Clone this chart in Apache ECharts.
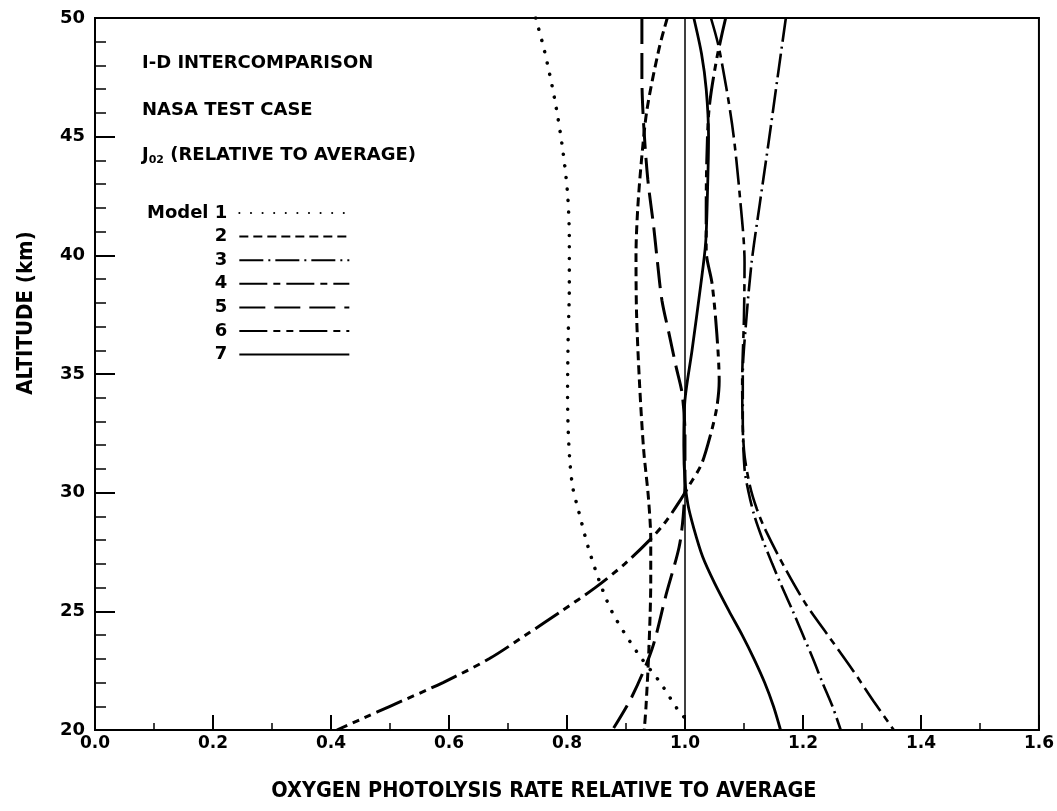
<!DOCTYPE html>
<html><head><meta charset="utf-8">
<script src="https://cdn.jsdelivr.net/npm/echarts@6/dist/echarts.min.js"></script>
<style>html,body{margin:0;padding:0;background:#fff}#c{width:1057px;height:811px}</style>
</head><body><div id="c"></div>
<script>
// ---- data: [relative rate, altitude km] ----
const modelNames = ['1', '2', '3', '4', '5', '6', '7'];
const model1 = [[0.747,50],[0.762,48.6],[0.779,46.6],[0.792,44.6],[0.801,42.6],[0.804,40.6],[0.804,38.7],[0.802,36.5],[0.801,34.2],[0.802,32.7],[0.805,31.3],[0.81,30.2],[0.82,29.2],[0.836,27.7],[0.856,26.2],[0.878,24.9],[0.921,23.2],[0.958,22.0],[0.988,20.85],[1.0,20.5]];
const model2 = [[0.97,50],[0.956,48.7],[0.936,46.2],[0.927,44.2],[0.92,42],[0.917,40],[0.918,37.5],[0.923,34.6],[0.93,31.8],[0.938,29.8],[0.942,28],[0.942,26.3],[0.939,23.5],[0.934,21],[0.931,20]];
const model3 = [[1.171,50],[1.157,47.5],[1.142,44.8],[1.127,42.2],[1.113,39.7],[1.103,37],[1.098,35],[1.098,33],[1.101,31],[1.108,30],[1.118,29],[1.132,28],[1.148,27],[1.165,26],[1.183,25],[1.2,24],[1.217,23],[1.233,22],[1.25,21],[1.264,20]];
const model4 = [[1.044,50],[1.058,48.7],[1.08,45.5],[1.093,42.5],[1.101,39.7],[1.1,37.4],[1.097,34.6],[1.1,31.8],[1.11,30.3],[1.122,29.3],[1.137,28.4],[1.17,26.8],[1.205,25.3],[1.245,23.9],[1.285,22.5],[1.32,21.2],[1.354,20]];
const model5 = [[0.927,50],[0.927,47.5],[0.93,45.5],[0.937,43.2],[0.947,41.2],[0.953,39.8],[0.961,38.1],[0.973,36.7],[0.985,35.3],[0.995,34.2],[1.0,32.5],[1.0,30.5],[0.997,29],[0.99,27.7],[0.968,25.7],[0.944,23.4],[0.91,21.4],[0.877,20]];
const model6 = [[1.069,50],[1.054,48.3],[1.041,46.2],[1.037,44],[1.036,42],[1.036,40.2],[1.046,38.8],[1.054,36.7],[1.058,34.7],[1.054,33.6],[1.044,32.5],[1.028,31.2],[1.007,30.3],[0.99,29.6],[0.965,28.7],[0.94,28],[0.898,27],[0.848,26],[0.79,25],[0.73,24],[0.668,23],[0.59,22],[0.5,21],[0.455,20.5],[0.41,20]];
const model7 = [[1.015,50],[1.028,48.5],[1.036,47],[1.04,45],[1.038,42.5],[1.035,40.5],[1.027,38.8],[1.012,36],[1.0,33.9],[0.998,32],[1.0,30.5],[1.005,29.5],[1.015,28.5],[1.03,27.3],[1.05,26.2],[1.075,25],[1.097,24],[1.117,23],[1.135,22],[1.15,21],[1.162,20]];
const referenceX = [1.0];
const xRange = [0, 1.6, 0.2];
const yRange = [20, 50, 5];
const annotations = ['I-D INTERCOMPARISON', 'NASA TEST CASE'];
// ---------------------------------------------------------------

const FONT = '"DejaVu Sans", "Liberation Sans", Arial, sans-serif';
const NARROW = '"Liberation Sans Narrow", "DejaVu Sans Condensed", "Liberation Sans", Arial, sans-serif';
const allData = [model1, model2, model3, model4, model5, model6, model7];
const styles = [
  {width: 3.5, type: [0.1, 11.5], cap: 'round'},
  {width: 3, type: [9, 5]},
  {width: 2.6, type: [24, 5, 2, 5]},
  {width: 2.6, type: [28, 6, 7, 6]},
  {width: 3, type: [26, 9]},
  {width: 3, type: [28, 6, 7, 6, 7, 6]},
  {width: 2.8, type: 'solid'}
];

const series = modelNames.map((n, i) => {
  const s = {
    name: n, type: 'line', data: allData[i], smooth: 0.3,
    symbol: 'none', showSymbol: false, animation: false,
    lineStyle: Object.assign({color: '#000'}, styles[i]),
    itemStyle: {color: '#000'}
  };
  if (i === 6) {
    s.markLine = {
      silent: true, symbol: 'none', animation: false,
      label: {show: false},
      lineStyle: {color: '#000', type: 'solid', width: 1.5},
      data: referenceX.map(v => ({xAxis: v}))
    };
  }
  return s;
});

const chart = echarts.init(document.getElementById('c'), null, {renderer: 'canvas'});
chart.setOption({
  backgroundColor: '#fff',
  animation: false,
  grid: {left: 95, right: 16, top: 18, bottom: 81, show: true, borderColor: '#000', borderWidth: 2, containLabel: false},
  xAxis: {
    type: 'value', min: xRange[0], max: xRange[1], interval: xRange[2],
    axisLine: {show: true, onZero: false, lineStyle: {color: '#000', width: 2}},
    axisTick: {show: true, inside: true, length: 15, lineStyle: {color: '#000', width: 2}},
    minorTick: {show: true, splitNumber: 2, length: 7, lineStyle: {color: '#000', width: 1.5}},
    splitLine: {show: false},
    axisLabel: {formatter: v => v.toFixed(1), color: '#000', fontWeight: 'bold', fontSize: 17, fontFamily: FONT, margin: 5},
    name: 'OXYGEN PHOTOLYSIS RATE RELATIVE TO AVERAGE',
    nameLocation: 'middle', nameGap: 50,
    nameTextStyle: {color: '#000', fontWeight: 'bold', fontSize: 21.5, fontFamily: NARROW, padding: [0, 46, 0, 0]}
  },
  yAxis: {
    type: 'value', min: yRange[0], max: yRange[1], interval: yRange[2],
    axisLine: {show: true, onZero: false, lineStyle: {color: '#000', width: 2}},
    axisTick: {show: true, inside: true, length: 20, lineStyle: {color: '#000', width: 2}},
    minorTick: {show: true, splitNumber: 5, length: 11, lineStyle: {color: '#000', width: 1.5}},
    splitLine: {show: false},
    axisLabel: {color: '#000', fontWeight: 'bold', fontSize: 18, fontFamily: FONT, margin: 10},
    name: 'ALTITUDE (km)',
    nameLocation: 'middle', nameRotate: 90, nameGap: 58,
    nameTextStyle: {color: '#000', fontWeight: 'bold', fontSize: 22, fontFamily: NARROW, padding: [0, 0, 0, 122]}
  },
  legend: {
    data: modelNames, orient: 'vertical', left: 142, top: 199,
    align: 'right', itemWidth: 110, itemHeight: 19, itemGap: 5.6,
    formatter: n => n === '1' ? 'Model 1' : n,
    textStyle: {color: '#000', fontWeight: 'bold', fontSize: 18, fontFamily: FONT, padding: [0, 7, 0, 0]},
    itemStyle: {opacity: 0},
    selectedMode: false
  },
  graphic: [
    {type: 'text', left: 142, top: 54, silent: true,
     style: {text: annotations[0], fill: '#000', fontWeight: 'bold', fontSize: 18, fontFamily: FONT}},
    {type: 'text', left: 142, top: 101, silent: true,
     style: {text: annotations[1], fill: '#000', fontWeight: 'bold', fontSize: 18, fontFamily: FONT}},
    {type: 'text', left: 142, top: 146, silent: true,
     style: {text: '{m|J}{s|02}{m| (RELATIVE TO AVERAGE)}', fill: '#000', fontWeight: 'bold', fontSize: 18, fontFamily: FONT,
       rich: {
         m: {fontWeight: 'bold', fontSize: 18, fontFamily: FONT, fill: '#000', lineHeight: 22, verticalAlign: 'middle'},
         s: {fontWeight: 'bold', fontSize: 11, fontFamily: FONT, fill: '#000', lineHeight: 22, verticalAlign: 'bottom'}
       }}}
  ],
  series: series
});
</script>
</body></html>
